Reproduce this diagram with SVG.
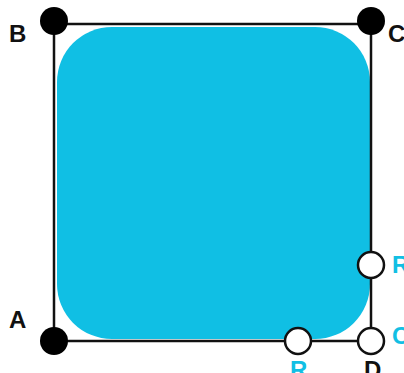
<svg xmlns="http://www.w3.org/2000/svg" width="404" height="373" viewBox="0 0 404 373">
<style>
.lbl{font-family:"Liberation Sans",Arial,sans-serif;font-weight:bold;font-size:24px}
.blk{fill:#111}
.cy{fill:#12bfe4}
.pt{fill:#000}
.op{fill:#fff;stroke:#111;stroke-width:2.5}
</style>
<rect x="57" y="27" width="313" height="312" rx="55" ry="55" fill="#10bfe4"/>
<g id="connectors">
<rect x="54" y="24" width="317" height="317" fill="none" stroke="#111" stroke-width="2.5"/>
</g>
<g id="A"><circle cx="54" cy="341" r="14" class="pt"/><text x="9" y="328" class="lbl blk">A</text></g>
<g id="B"><circle cx="54" cy="21" r="14" class="pt"/><text x="9" y="42" class="lbl blk">B</text></g>
<g id="C"><circle cx="371" cy="21" r="14" class="pt"/><text x="388" y="42" class="lbl blk">C</text></g>
<g id="D"><circle cx="371" cy="341" r="13" class="op"/><text x="364" y="378" class="lbl blk">D</text><text x="392" y="344" class="lbl cy">C</text></g>
<g id="R1"><circle cx="371" cy="265" r="13" class="op"/><text x="392" y="273" class="lbl cy">R</text></g>
<g id="R2"><circle cx="298" cy="341" r="13" class="op"/><text x="290" y="378" class="lbl cy">R</text></g>
</svg>
